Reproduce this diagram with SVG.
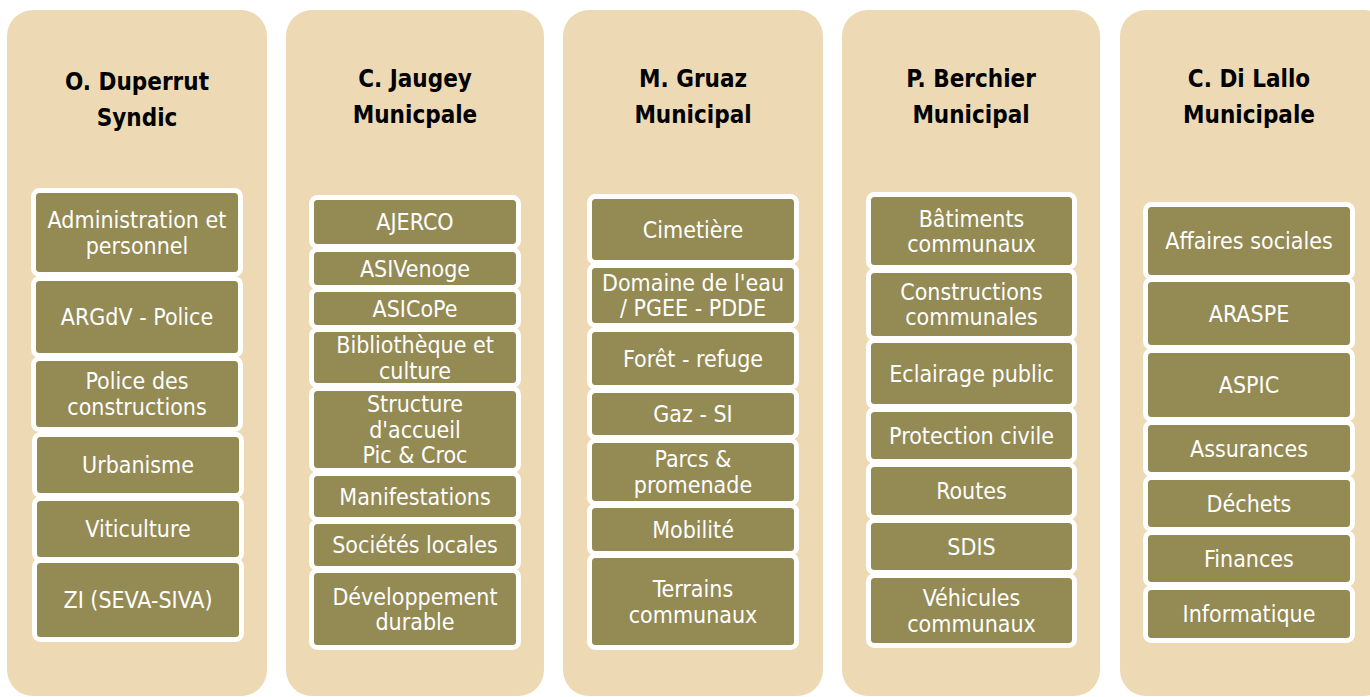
<svg xmlns="http://www.w3.org/2000/svg" width="1370" height="697" viewBox="0 0 1370 697">
<style>
.panel{fill:#EDDAB5}
.box rect{fill:#948A54;stroke:#FFFFFF;stroke-width:5}
.t{font-family:"DejaVu Sans Condensed","DejaVu Sans",sans-serif;font-stretch:condensed;font-size:23px;fill:#FFFFFF;text-anchor:middle}
.h{font-family:"DejaVu Sans Condensed","DejaVu Sans",sans-serif;font-stretch:condensed;font-size:24px;font-weight:bold;fill:#000000;text-anchor:middle}
</style>
<rect width="1370" height="697" fill="#FFFFFF"/>
<g id="col1">
<rect class="panel" x="7" y="10" width="260" height="686" rx="26"/>
<text class="h" x="137" y="90">O. Duperrut</text>
<text class="h" x="137" y="126">Syndic</text>
<g id="c1b1" class="box"><rect x="33.5" y="190.5" width="207" height="84" rx="6"/><text class="t" x="137" y="228">Administration et</text><text class="t" x="137" y="253.5">personnel</text></g>
<g id="c1b2" class="box"><rect x="33.5" y="278.5" width="207" height="77" rx="6"/><text class="t" x="137" y="325">ARGdV - Police</text></g>
<g id="c1b3" class="box"><rect x="33.5" y="358.5" width="207" height="71" rx="6"/><text class="t" x="137" y="389">Police des</text><text class="t" x="137" y="415">constructions</text></g>
<g id="c1b4" class="box"><rect x="34.5" y="434.5" width="207" height="61" rx="6"/><text class="t" x="138" y="473">Urbanisme</text></g>
<g id="c1b5" class="box"><rect x="34.5" y="498.5" width="207" height="61" rx="6"/><text class="t" x="138" y="537">Viticulture</text></g>
<g id="c1b6" class="box"><rect x="34.5" y="560.5" width="207" height="79" rx="6"/><text class="t" x="138" y="608">ZI (SEVA-SIVA)</text></g>
</g>
<g id="col2">
<rect class="panel" x="286" y="10" width="258" height="686" rx="26"/>
<text class="h" x="415" y="87">C. Jaugey</text>
<text class="h" x="415" y="123">Municpale</text>
<g id="c2b1" class="box"><rect x="311.5" y="197.5" width="207" height="49" rx="6"/><text class="t" x="415" y="230">AJERCO</text></g>
<g id="c2b2" class="box"><rect x="311.5" y="249.5" width="207" height="38" rx="6"/><text class="t" x="415" y="276.5">ASIVenoge</text></g>
<g id="c2b3" class="box"><rect x="311.5" y="289.5" width="207" height="38" rx="6"/><text class="t" x="415" y="316.5">ASICoPe</text></g>
<g id="c2b4" class="box"><rect x="311.5" y="329.5" width="207" height="56" rx="6"/><text class="t" x="415" y="353">Bibliothèque et</text><text class="t" x="415" y="378.5">culture</text></g>
<g id="c2b5" class="box"><rect x="311.5" y="388.5" width="207" height="82" rx="6"/><text class="t" x="415" y="412">Structure</text><text class="t" x="415" y="437.5">d'accueil</text><text class="t" x="415" y="463">Pic &amp; Croc</text></g>
<g id="c2b6" class="box"><rect x="311.5" y="473.5" width="207" height="46" rx="6"/><text class="t" x="415" y="505">Manifestations</text></g>
<g id="c2b7" class="box"><rect x="311.5" y="521.5" width="207" height="47" rx="6"/><text class="t" x="415" y="552.5">Sociétés locales</text></g>
<g id="c2b8" class="box"><rect x="311.5" y="570.5" width="207" height="77" rx="6"/><text class="t" x="415" y="604.5">Développement</text><text class="t" x="415" y="630">durable</text></g>
</g>
<g id="col3">
<rect class="panel" x="563" y="10" width="260" height="686" rx="26"/>
<text class="h" x="693" y="87">M. Gruaz</text>
<text class="h" x="693" y="123">Municipal</text>
<g id="c3b1" class="box"><rect x="589.5" y="196.5" width="207" height="66" rx="6"/><text class="t" x="693" y="237.5">Cimetière</text></g>
<g id="c3b2" class="box"><rect x="589.5" y="265.5" width="207" height="60" rx="6"/><text class="t" x="693" y="290.5">Domaine de l'eau</text><text class="t" x="693" y="316">/ PGEE - PDDE</text></g>
<g id="c3b3" class="box"><rect x="589.5" y="329.5" width="207" height="58" rx="6"/><text class="t" x="693" y="366.5">Forêt - refuge</text></g>
<g id="c3b4" class="box"><rect x="589.5" y="390.5" width="207" height="47" rx="6"/><text class="t" x="693" y="422">Gaz - SI</text></g>
<g id="c3b5" class="box"><rect x="589.5" y="440.5" width="207" height="63" rx="6"/><text class="t" x="693" y="467">Parcs &amp;</text><text class="t" x="693" y="492.5">promenade</text></g>
<g id="c3b6" class="box"><rect x="589.5" y="505.5" width="207" height="48" rx="6"/><text class="t" x="693" y="537.5">Mobilité</text></g>
<g id="c3b7" class="box"><rect x="589.5" y="555.5" width="207" height="92" rx="6"/><text class="t" x="693" y="597">Terrains</text><text class="t" x="693" y="622.5">communaux</text></g>
</g>
<g id="col4">
<rect class="panel" x="842" y="10" width="258" height="686" rx="26"/>
<text class="h" x="971" y="87">P. Berchier</text>
<text class="h" x="971" y="123">Municipal</text>
<g id="c4b1" class="box"><rect x="868.5" y="194.5" width="206" height="73" rx="6"/><text class="t" x="971.5" y="226.5">Bâtiments</text><text class="t" x="971.5" y="252">communaux</text></g>
<g id="c4b2" class="box"><rect x="868.5" y="270.5" width="206" height="68" rx="6"/><text class="t" x="971.5" y="299.5">Constructions</text><text class="t" x="971.5" y="325">communales</text></g>
<g id="c4b3" class="box"><rect x="868.5" y="340.5" width="206" height="66" rx="6"/><text class="t" x="971.5" y="381.5">Eclairage public</text></g>
<g id="c4b4" class="box"><rect x="868.5" y="409.5" width="206" height="52" rx="6"/><text class="t" x="971.5" y="443.5">Protection civile</text></g>
<g id="c4b5" class="box"><rect x="868.5" y="464.5" width="206" height="53" rx="6"/><text class="t" x="971.5" y="498.5">Routes</text></g>
<g id="c4b6" class="box"><rect x="868.5" y="520.5" width="206" height="52" rx="6"/><text class="t" x="971.5" y="554.5">SDIS</text></g>
<g id="c4b7" class="box"><rect x="868.5" y="575.5" width="206" height="70" rx="6"/><text class="t" x="971.5" y="606">Véhicules</text><text class="t" x="971.5" y="631.5">communaux</text></g>
</g>
<g id="col5">
<rect class="panel" x="1120" y="10" width="270" height="686" rx="26"/>
<text class="h" x="1249" y="87">C. Di Lallo</text>
<text class="h" x="1249" y="123">Municipale</text>
<g id="c5b1" class="box"><rect x="1145.5" y="204.5" width="207" height="73" rx="6"/><text class="t" x="1249" y="248.5">Affaires sociales</text></g>
<g id="c5b2" class="box"><rect x="1145.5" y="279.5" width="207" height="68" rx="6"/><text class="t" x="1249" y="321.5">ARASPE</text></g>
<g id="c5b3" class="box"><rect x="1145.5" y="350.5" width="207" height="69" rx="6"/><text class="t" x="1249" y="392.5">ASPIC</text></g>
<g id="c5b4" class="box"><rect x="1145.5" y="422.5" width="207" height="52" rx="6"/><text class="t" x="1249" y="456.5">Assurances</text></g>
<g id="c5b5" class="box"><rect x="1145.5" y="477.5" width="207" height="52" rx="6"/><text class="t" x="1249" y="511.5">Déchets</text></g>
<g id="c5b6" class="box"><rect x="1145.5" y="532.5" width="207" height="52" rx="6"/><text class="t" x="1249" y="566.5">Finances</text></g>
<g id="c5b7" class="box"><rect x="1145.5" y="587.5" width="207" height="53" rx="6"/><text class="t" x="1249" y="621.5">Informatique</text></g>
</g>
<g id="connectors"/>
</svg>
